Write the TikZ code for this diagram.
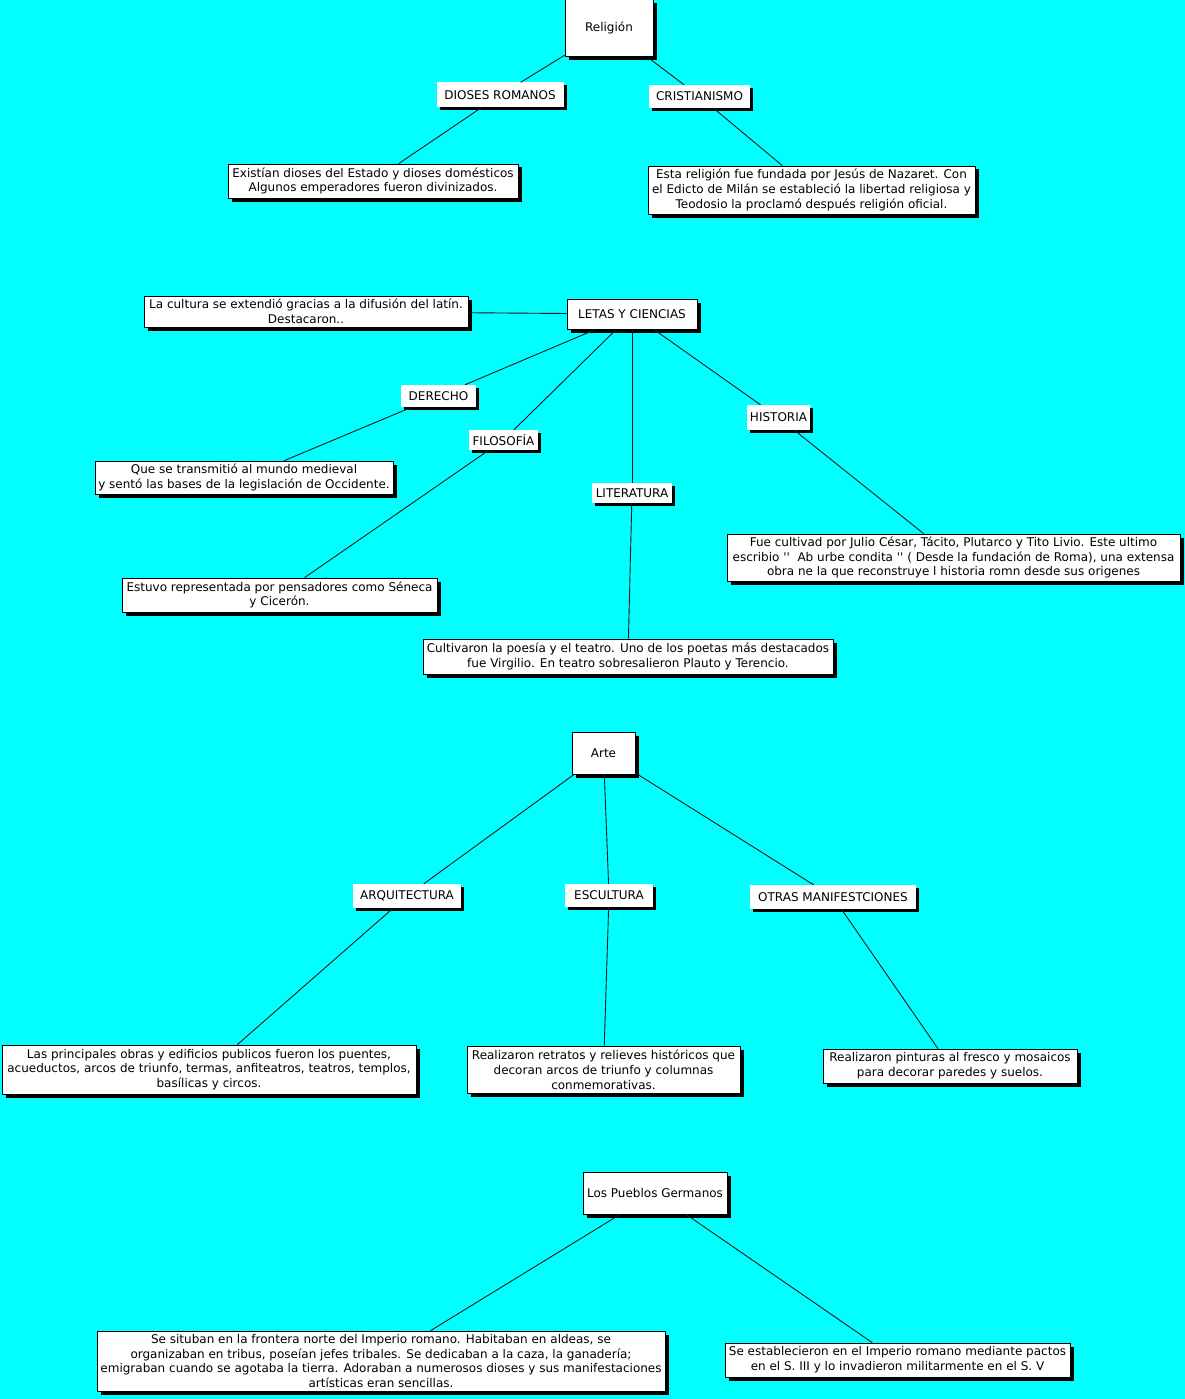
\documentclass[tikz,border=0pt]{standalone}
\usepackage{fontspec}
\setmainfont{DejaVu Sans}
\usepackage{xcolor}
\definecolor{skycyan}{HTML}{00FFFF}
\definecolor{inkline}{HTML}{1A1A1A}
\definecolor{boxshadow}{HTML}{000000}
\usetikzlibrary{shadows,positioning}

\newcommand{\sq}{\textquotesingle\textquotesingle}

\tikzset{
	concept/.style={
		draw=black, line width=0.8pt, fill=white, align=center, inner sep=1pt,
		drop shadow={shadow xshift=3.5pt, shadow yshift=-3.5pt, opacity=1, fill=boxshadow}
	},
	linklabel/.style={
		fill=white, align=center, inner sep=1pt,
		drop shadow={shadow xshift=3pt, shadow yshift=-3pt, opacity=1, fill=boxshadow}
	},
	link/.style={inkline, line width=0.9pt}
}

\begin{document}
\begin{tikzpicture}[x=1pt, y=-1pt, font=\fontsize{12}{14.8}\selectfont]

	\fill[skycyan] (0,0) rectangle (1185,1399);
	\useasboundingbox (0,0) rectangle (1185,1399);

	% ================= Religion =================
	\begin{scope}
		\node[concept, minimum width=88, minimum height=57] (religion) at (609,28) {Religión};
		\node[linklabel, minimum width=127, minimum height=25] (dioses) at (500,95) {DIOSES ROMANOS};
		\node[linklabel, minimum width=101, minimum height=23] (cristianismo) at (699.5,96.5) {CRISTIANISMO};
		\node[concept, minimum width=290, minimum height=34] (existian) at (373,181)
		{Existían dioses del Estado y dioses domésticos\\Algunos emperadores fueron divinizados.};
		\node[concept, minimum width=327, minimum height=48] (fundada) at (811.5,190)
		{Esta religión fue fundada por Jesús de Nazaret. Con\\el Edicto de Milán se estableció la libertad religiosa y\\Teodosio la proclamó después religión oficial.};

		\draw[link] (religion) -- (dioses);
		\draw[link] (dioses) -- (existian);
		\draw[link] (religion) -- (cristianismo);
		\draw[link] (cristianismo) -- (fundada);
	\end{scope}

	% ================= Letras y ciencias =================
	\begin{scope}
		\node[concept, minimum width=130, minimum height=30] (letras) at (632,314) {LETAS Y CIENCIAS};
		\node[concept, minimum width=324, minimum height=31] (cultura) at (306,311.5)
		{La cultura se extendió gracias a la difusión del latín.\\Destacaron..};
		\node[linklabel, minimum width=75, minimum height=22] (derecho) at (438.5,396) {DERECHO};
		\node[linklabel, minimum width=69, minimum height=20] (filosofia) at (503.5,440) {FILOSOFÍA};
		\node[linklabel, minimum width=80, minimum height=20] (literatura) at (632,493) {LITERATURA};
		\node[linklabel, minimum width=63, minimum height=25] (historia) at (778.5,417.5) {HISTORIA};
		\node[concept, minimum width=298, minimum height=33] (medieval) at (244,477.5)
		{Que se transmitió al mundo medieval\\y sentó las bases de la legislación de Occidente.};
		\node[concept, minimum width=315, minimum height=34] (pensadores) at (279.5,595)
		{Estuvo representada por pensadores como Séneca\\y Cicerón.};
		\node[concept, minimum width=410, minimum height=35] (poesia) at (628,656.5)
		{Cultivaron la poesía y el teatro. Uno de los poetas más destacados\\fue Virgilio. En teatro sobresalieron Plauto y Terencio.};
		\node[concept, minimum width=453, minimum height=47] (cesar) at (953.5,557.5)
		{Fue cultivad por Julio César, Tácito, Plutarco y Tito Livio. Este ultimo\\escribio \sq~ Ab urbe condita \sq{} ( Desde la fundación de Roma), una extensa\\obra ne la que reconstruye l historia romn desde sus origenes};

		\draw[link] (letras) -- (cultura);
		\draw[link] (letras) -- (derecho);
		\draw[link] (derecho) -- (medieval);
		\draw[link] (letras) -- (filosofia);
		\draw[link] (filosofia) -- (pensadores);
		\draw[link] (letras) -- (literatura);
		\draw[link] (literatura) -- (poesia);
		\draw[link] (letras) -- (historia);
		\draw[link] (historia) -- (cesar);
	\end{scope}

	% ================= Arte =================
	\begin{scope}
		\node[concept, minimum width=63, minimum height=42] (arte) at (603.5,753) {Arte};
		\node[linklabel, minimum width=108, minimum height=24] (arquitectura) at (407,896) {ARQUITECTURA};
		\node[linklabel, minimum width=88, minimum height=23] (escultura) at (609,895.5) {ESCULTURA};
		\node[linklabel, minimum width=166, minimum height=24] (otras) at (833,897) {OTRAS MANIFESTCIONES};
		\node[concept, minimum width=414, minimum height=49] (obras) at (209,1069.5)
		{Las principales obras y edificios publicos fueron los puentes,\\acueductos, arcos de triunfo, termas, anfiteatros, teatros, templos,\\basílicas y circos.};
		\node[concept, minimum width=273, minimum height=47] (retratos) at (603.5,1069.5)
		{Realizaron retratos y relieves históricos que\\decoran arcos de triunfo y columnas\\conmemorativas.};
		\node[concept, minimum width=254, minimum height=34] (pinturas) at (950,1066)
		{Realizaron pinturas al fresco y mosaicos\\para decorar paredes y suelos.};

		\draw[link] (arte) -- (arquitectura);
		\draw[link] (arquitectura) -- (obras);
		\draw[link] (arte) -- (escultura);
		\draw[link] (escultura) -- (retratos);
		\draw[link] (arte) -- (otras);
		\draw[link] (otras) -- (pinturas);
	\end{scope}

	% ================= Pueblos germanos =================
	\begin{scope}
		\node[concept, minimum width=144, minimum height=42] (pueblos) at (655,1193) {Los Pueblos Germanos};
		\node[concept, minimum width=568, minimum height=60] (aldeas) at (381,1361)
		{Se situban en la frontera norte del Imperio romano. Habitaban en aldeas, se\\organizaban en tribus, poseían jefes tribales. Se dedicaban a la caza, la ganadería;\\emigraban cuando se agotaba la tierra. Adoraban a numerosos dioses y sus manifestaciones\\artísticas eran sencillas.};
		\node[concept, minimum width=345, minimum height=34] (pactos) at (897.5,1360)
		{Se establecieron en el Imperio romano mediante pactos\\en el S. III y lo invadieron militarmente en el S. V};

		\draw[link] (pueblos) -- (aldeas);
		\draw[link] (pueblos) -- (pactos);
	\end{scope}

\end{tikzpicture}
\end{document}
